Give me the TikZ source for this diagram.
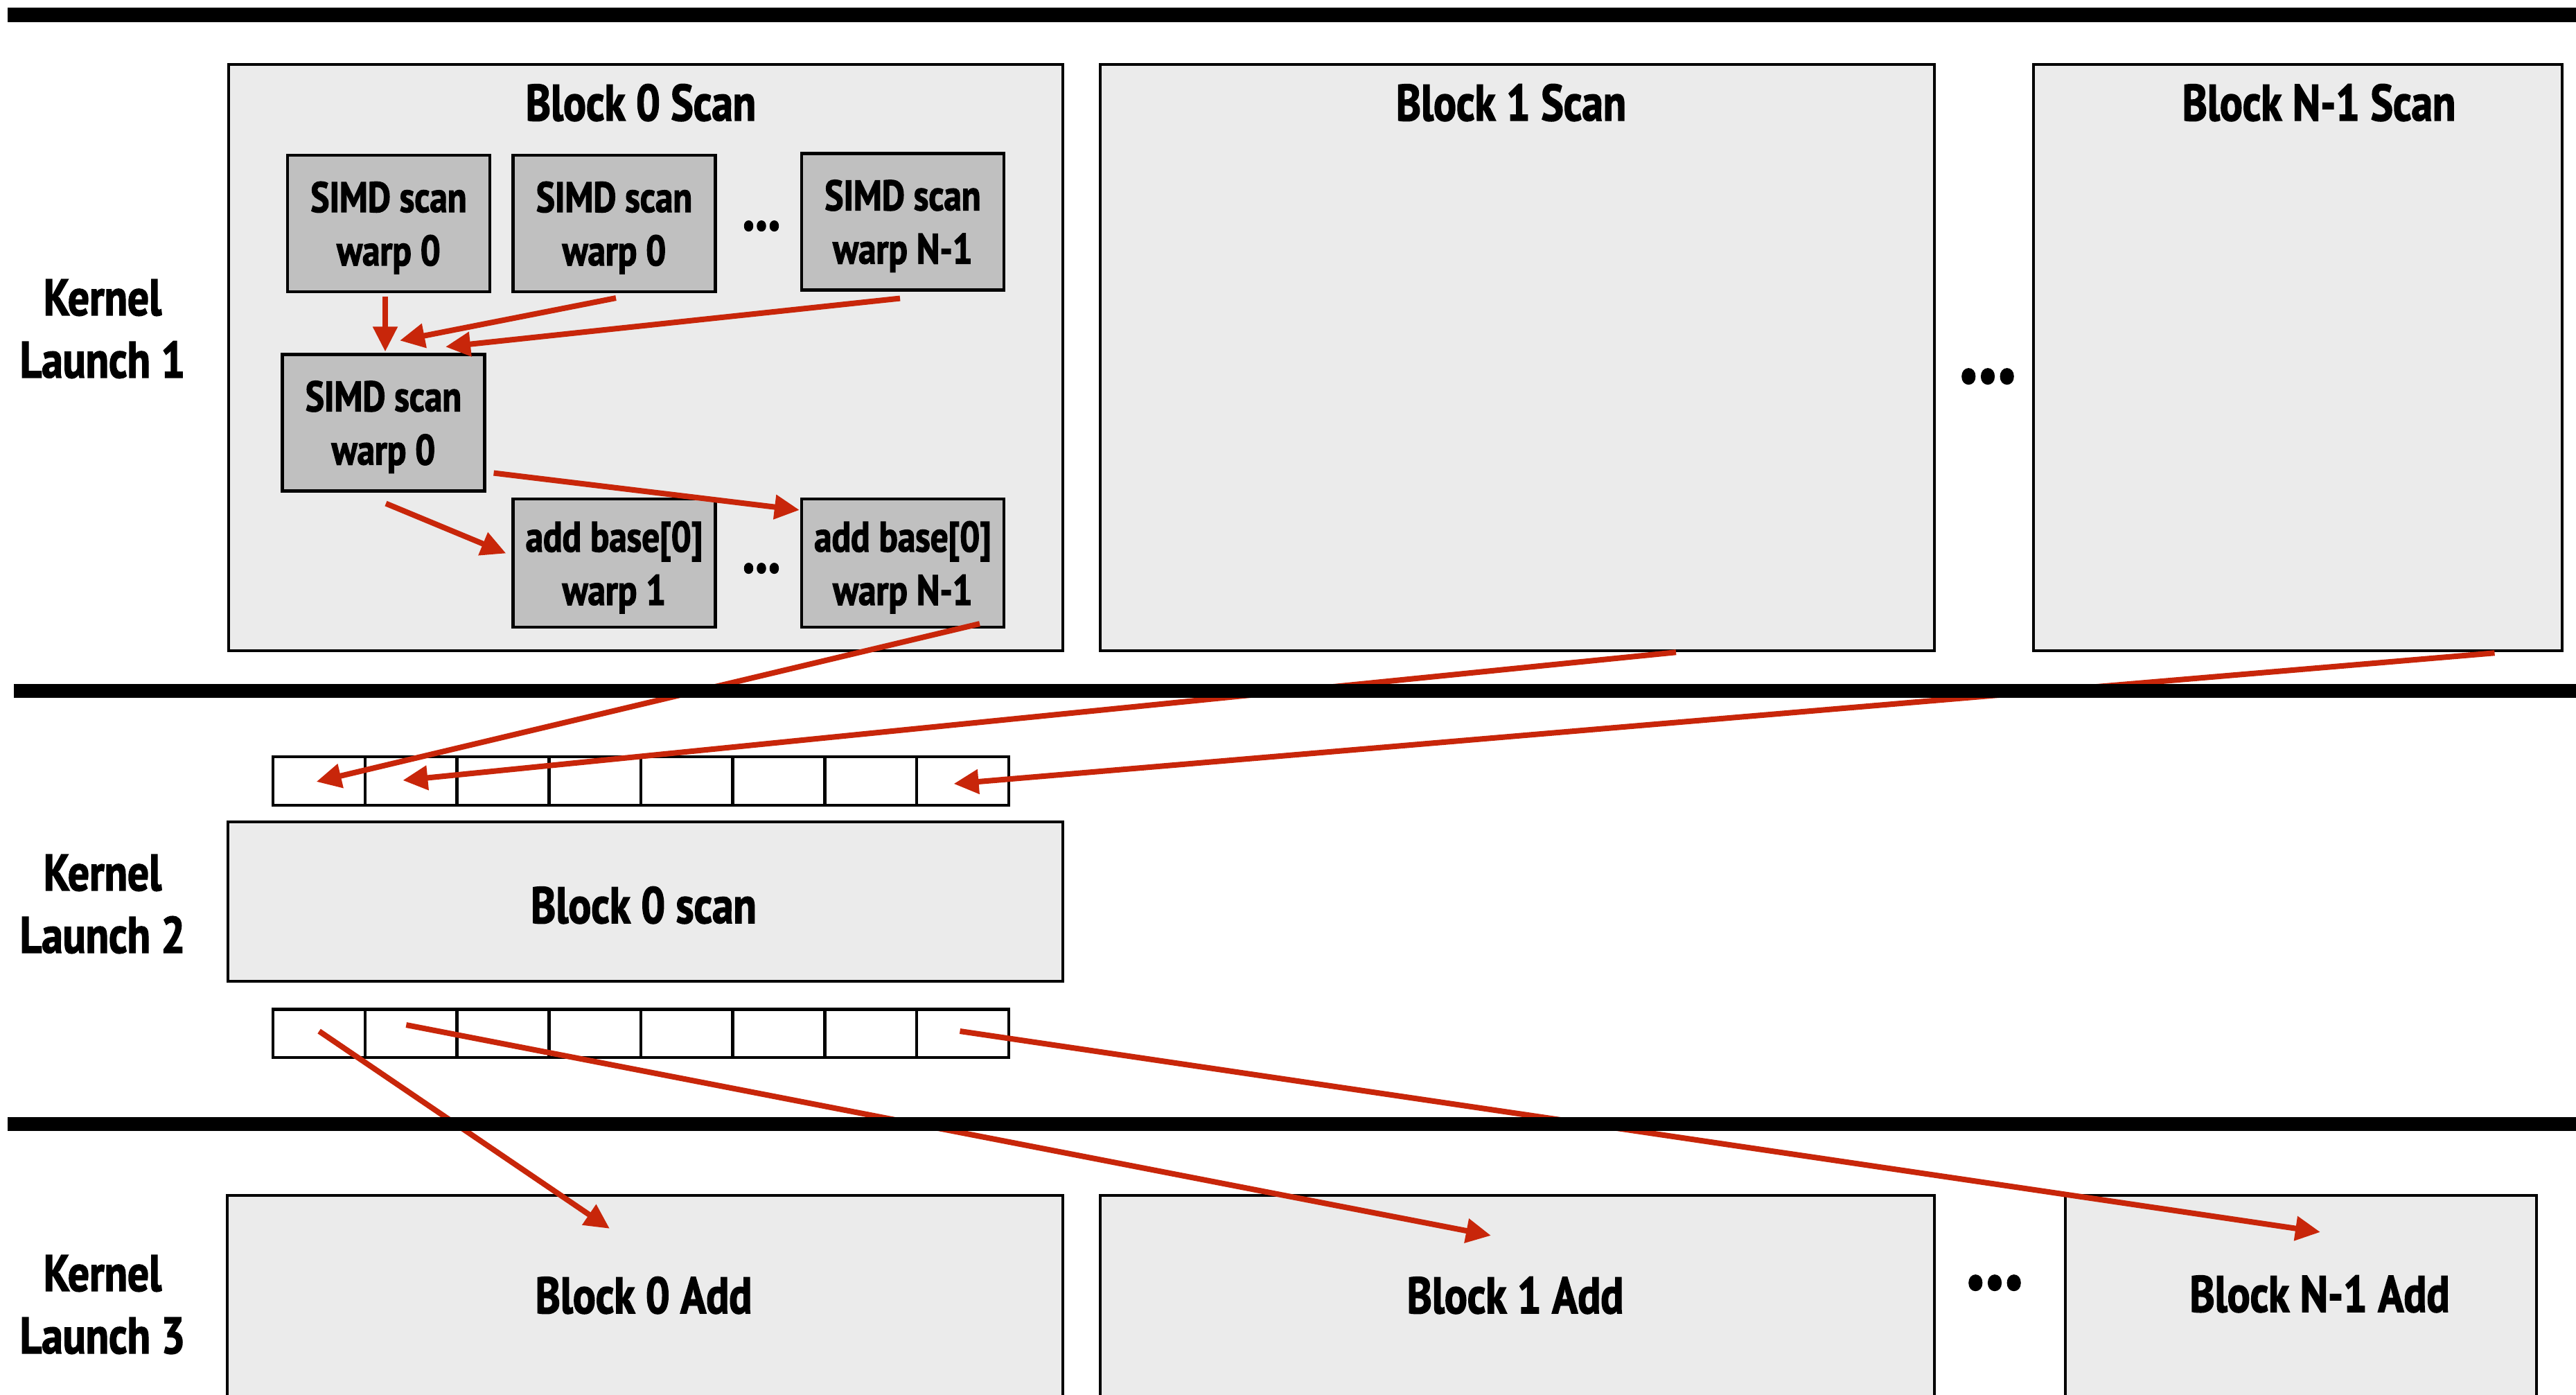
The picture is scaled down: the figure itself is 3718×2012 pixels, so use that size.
\documentclass[tikz,border=0pt]{standalone}
\usepackage{fontspec}
\setmainfont{PT Sans}[FakeStretch=0.83, BoldFont={PT Sans Bold}, BoldFeatures={FakeBold=2}]
\usetikzlibrary{arrows.meta,calc}
\definecolor{blockfill}{RGB}{235,235,235}
\definecolor{warpfill}{RGB}{192,192,192}
\definecolor{arrowred}{RGB}{200,38,10}
\tikzset{
  block/.style={draw=black, line width=0.045cm, fill=blockfill, inner sep=0pt},
  warpbox/.style={draw=black, line width=0.045cm, fill=warpfill, inner sep=0pt,
    font=\bfseries\fontsize{17.5}{21.9}\selectfont, align=center, text depth=0pt,
    minimum width=2.915cm, minimum height=1.965cm},
  titletext/.style={font=\bfseries\fontsize{21}{25.6}\selectfont, anchor=base, inner sep=0pt},
  kernel/.style={font=\bfseries\fontsize{21}{25.6}\selectfont, align=center, text depth=0pt, inner sep=0pt},
  cell/.style={draw=black, line width=0.045cm, fill=white, inner sep=0pt,
    minimum width=1.327cm, minimum height=0.695cm},
  rulebar/.style={line width=0.2cm},
  flow/.style={draw=arrowred, line width=0.08cm, -{Triangle[length=0.36cm,width=0.34cm]}},
  dotsmall/.style={font=\bfseries\fontsize{14}{16}\selectfont, inner sep=0pt},
  dotbig/.style={font=\bfseries\fontsize{21}{25.6}\selectfont, inner sep=0pt},
}
\begin{document}
\begin{tikzpicture}[x=0.01cm, y=-0.01cm]
\useasboundingbox (0,0) rectangle (3718,2012);
% ---------- Kernel launch 1 ----------
\node[block, minimum width=12.035cm, minimum height=8.455cm] (scan0) at (932,516) {};
\node[block, minimum width=12.035cm, minimum height=8.455cm] (scan1) at (2190,516) {};
\node[block, minimum width=7.625cm, minimum height=8.455cm] (scanN) at (3316.5,516) {};
\node[titletext] (t0) at (925,174) {Block 0 Scan};
\node[titletext] (t1) at (2181,174) {Block 1 Scan};
\node[titletext] (tN) at (3347,174) {Block N-1 Scan};
\node[dotbig] (bigdots1) at (2869,549) {•••};

\node[warpbox] (wA) at (561,322.5) {SIMD scan\\warp 0};
\node[warpbox] (wB) at (886.5,322.5) {SIMD scan\\warp 0};
\node[warpbox] (wC) at (1303,320) {SIMD scan\\warp N-1};
\node[dotsmall] (sd1) at (1099,330) {•••};
\node[warpbox] (wD) at (553.5,610) {SIMD scan\\warp 0};
\node[warpbox, minimum height=1.845cm] (wE) at (886.5,812.5) {add base[0]\\warp 1};
\node[warpbox, minimum height=1.845cm] (wF) at (1303,812.5) {add base[0]\\warp N-1};
\node[dotsmall] (sd2) at (1099,824) {•••};

\node[kernel] (k1) at (148,474) {Kernel\\Launch 1};

% ---------- Kernel launch 2 ----------
\foreach \i in {0,...,7} {
  \node[cell] (a\i) at ({460.6+132.7*\i},1127) {};
  \node[cell] (b\i) at ({460.6+132.7*\i},1491) {};
}
\node[block, minimum width=12.045cm, minimum height=2.295cm] (mid) at (931.5,1301) {};
\node[titletext] (tm) at (929,1332) {Block 0 scan};
\node[kernel] (k2) at (148,1304) {Kernel\\Launch 2};

% ---------- Kernel launch 3 ----------
\node[block, minimum width=12.055cm, minimum height=2.9475cm] (add0) at (931,1872.6) {};
\node[block, minimum width=12.035cm, minimum height=2.9475cm] (add1) at (2190,1872.6) {};
\node[block, minimum width=6.795cm, minimum height=2.9475cm] (addN) at (3321,1872.6) {};
\node[titletext] (ta0) at (929,1895) {Block 0 Add};
\node[titletext] (ta1) at (2187,1895) {Block 1 Add};
\node[titletext] (taN) at (3348,1893) {Block N-1 Add};
\node[dotbig] (bigdots3) at (2879,1857) {•••};
\node[kernel] (k3) at (148,1882) {Kernel\\Launch 3};

% ---------- connectors ----------
\draw[flow] ($(wA.south)+(-5,5)$) -- ($(wD.north)+(2.5,-2)$);
\draw[flow] ($(wB.south)+(2.5,7)$) -- ($(wD.north)+(23.5,-18)$);
\draw[flow] ($(wC.south)+(-4,10)$) -- ($(wD.north)+(89.5,-9)$);
\draw[flow] ($(wD.south east)+(11,-28)$) -- ($(wF.north west)+(-1,18)$);
\draw[flow] ($(wD.south)+(3.5,16)$) -- ($(wE.west)+(-8,-14)$);
\draw[flow] ($(wF.south)+(111,-7)$) -- ($(a0.center)+(-4,1)$);
\draw[flow] ($(scan1.south)+(229,0)$) -- ($(a1.center)+(-12,-1)$);
\draw[flow] ($(scanN.south)+(284,1)$) -- ($(a7.center)+(-13,4)$);
\draw[flow] ($(b0.center)+(0,-3)$) -- ($(add0.north)+(-51,50)$);
\draw[flow] ($(b1.center)+(-7,-12)$) -- ($(add1.north)+(-38,60)$);
\draw[flow] ($(b7.center)+(-4,-3)$) -- ($(addN.north)+(28,55)$);

% ---------- separator rules ----------
\coordinate (r1a) at (11,21.5);   \coordinate (r1b) at (3718,21.5);
\coordinate (r2a) at (20,997);    \coordinate (r2b) at (3718,997);
\coordinate (r3a) at (11,1621.5); \coordinate (r3b) at (3718,1621.5);
\draw[rulebar] (r1a) -- (r1b);
\draw[rulebar] (r2a) -- (r2b);
\draw[rulebar] (r3a) -- (r3b);
\end{tikzpicture}
\end{document}
